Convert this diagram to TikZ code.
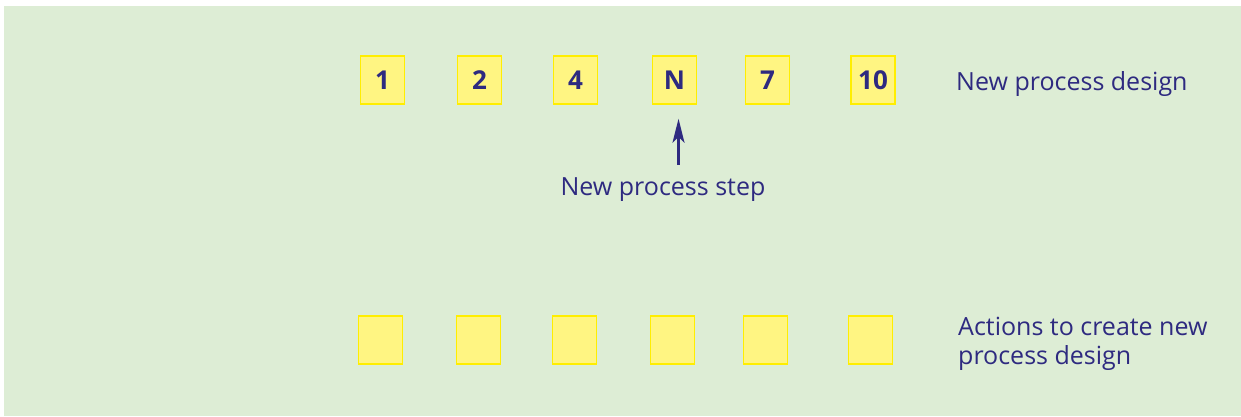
\documentclass[tikz,border=0pt]{standalone}
\usepackage{fontspec}
\setmainfont{Open Sans}
\usetikzlibrary{arrows.meta}
\definecolor{bggreen}{HTML}{DDEDD5}
\definecolor{boxfill}{HTML}{FFF582}
\definecolor{boxline}{HTML}{FFEE00}
\definecolor{ink}{HTML}{2E2A80}
\tikzset{
  stepbox/.style = {rectangle, draw=boxline, line width=1.5pt, fill=boxfill, minimum width=44pt, minimum height=48pt, inner sep=0, font=\fontsize{26}{26}\selectfont\bfseries, text=ink},
  lbl/.style     = {font=\fontsize{25}{29}\selectfont, text=ink, inner sep=0},
  pointer/.style = {-{Stealth[length=24pt,width=12pt,inset=6pt]}, line width=2.5pt, draw=ink}
}

\begin{document}
\begin{tikzpicture}[x=1pt,y=-1pt]
  \useasboundingbox (0,0) rectangle (1241,416);
  \fill[bggreen] (4,6) rectangle (1241,416);

  % new process design
  \node[stepbox] (s1)  at (382.5,80) {1};
  \node[stepbox] (s2)  at (479.5,80) {2};
  \node[stepbox] (s4)  at (575.5,80) {4};
  \node[stepbox] (sN)  at (674.5,80) {N};
  \node[stepbox] (s7)  at (767.5,80) {7};
  \node[stepbox] (s10) at (873,80)   {10};
  \node[lbl,anchor=west] (design) at (956,84) {New process design};

  \node[lbl] (newstep) at (663,190) {New process step};
  \draw[pointer,shorten <=13pt,shorten >=14pt] ([xshift=4pt]newstep.north -| sN) -- ([xshift=4pt]sN.south);

  % actions
  \node[stepbox] (a1) at (380.5,340) {};
  \node[stepbox] (a2) at (478.5,340) {};
  \node[stepbox] (a3) at (574.5,340) {};
  \node[stepbox] (a4) at (672.5,340) {};
  \node[stepbox] (a5) at (765.5,340) {};
  \node[stepbox] (a6) at (870.5,340) {};
  \node[lbl,anchor=west,align=left] (actions) at (958,344) {Actions to create new\\process design};
\end{tikzpicture}
\end{document}
